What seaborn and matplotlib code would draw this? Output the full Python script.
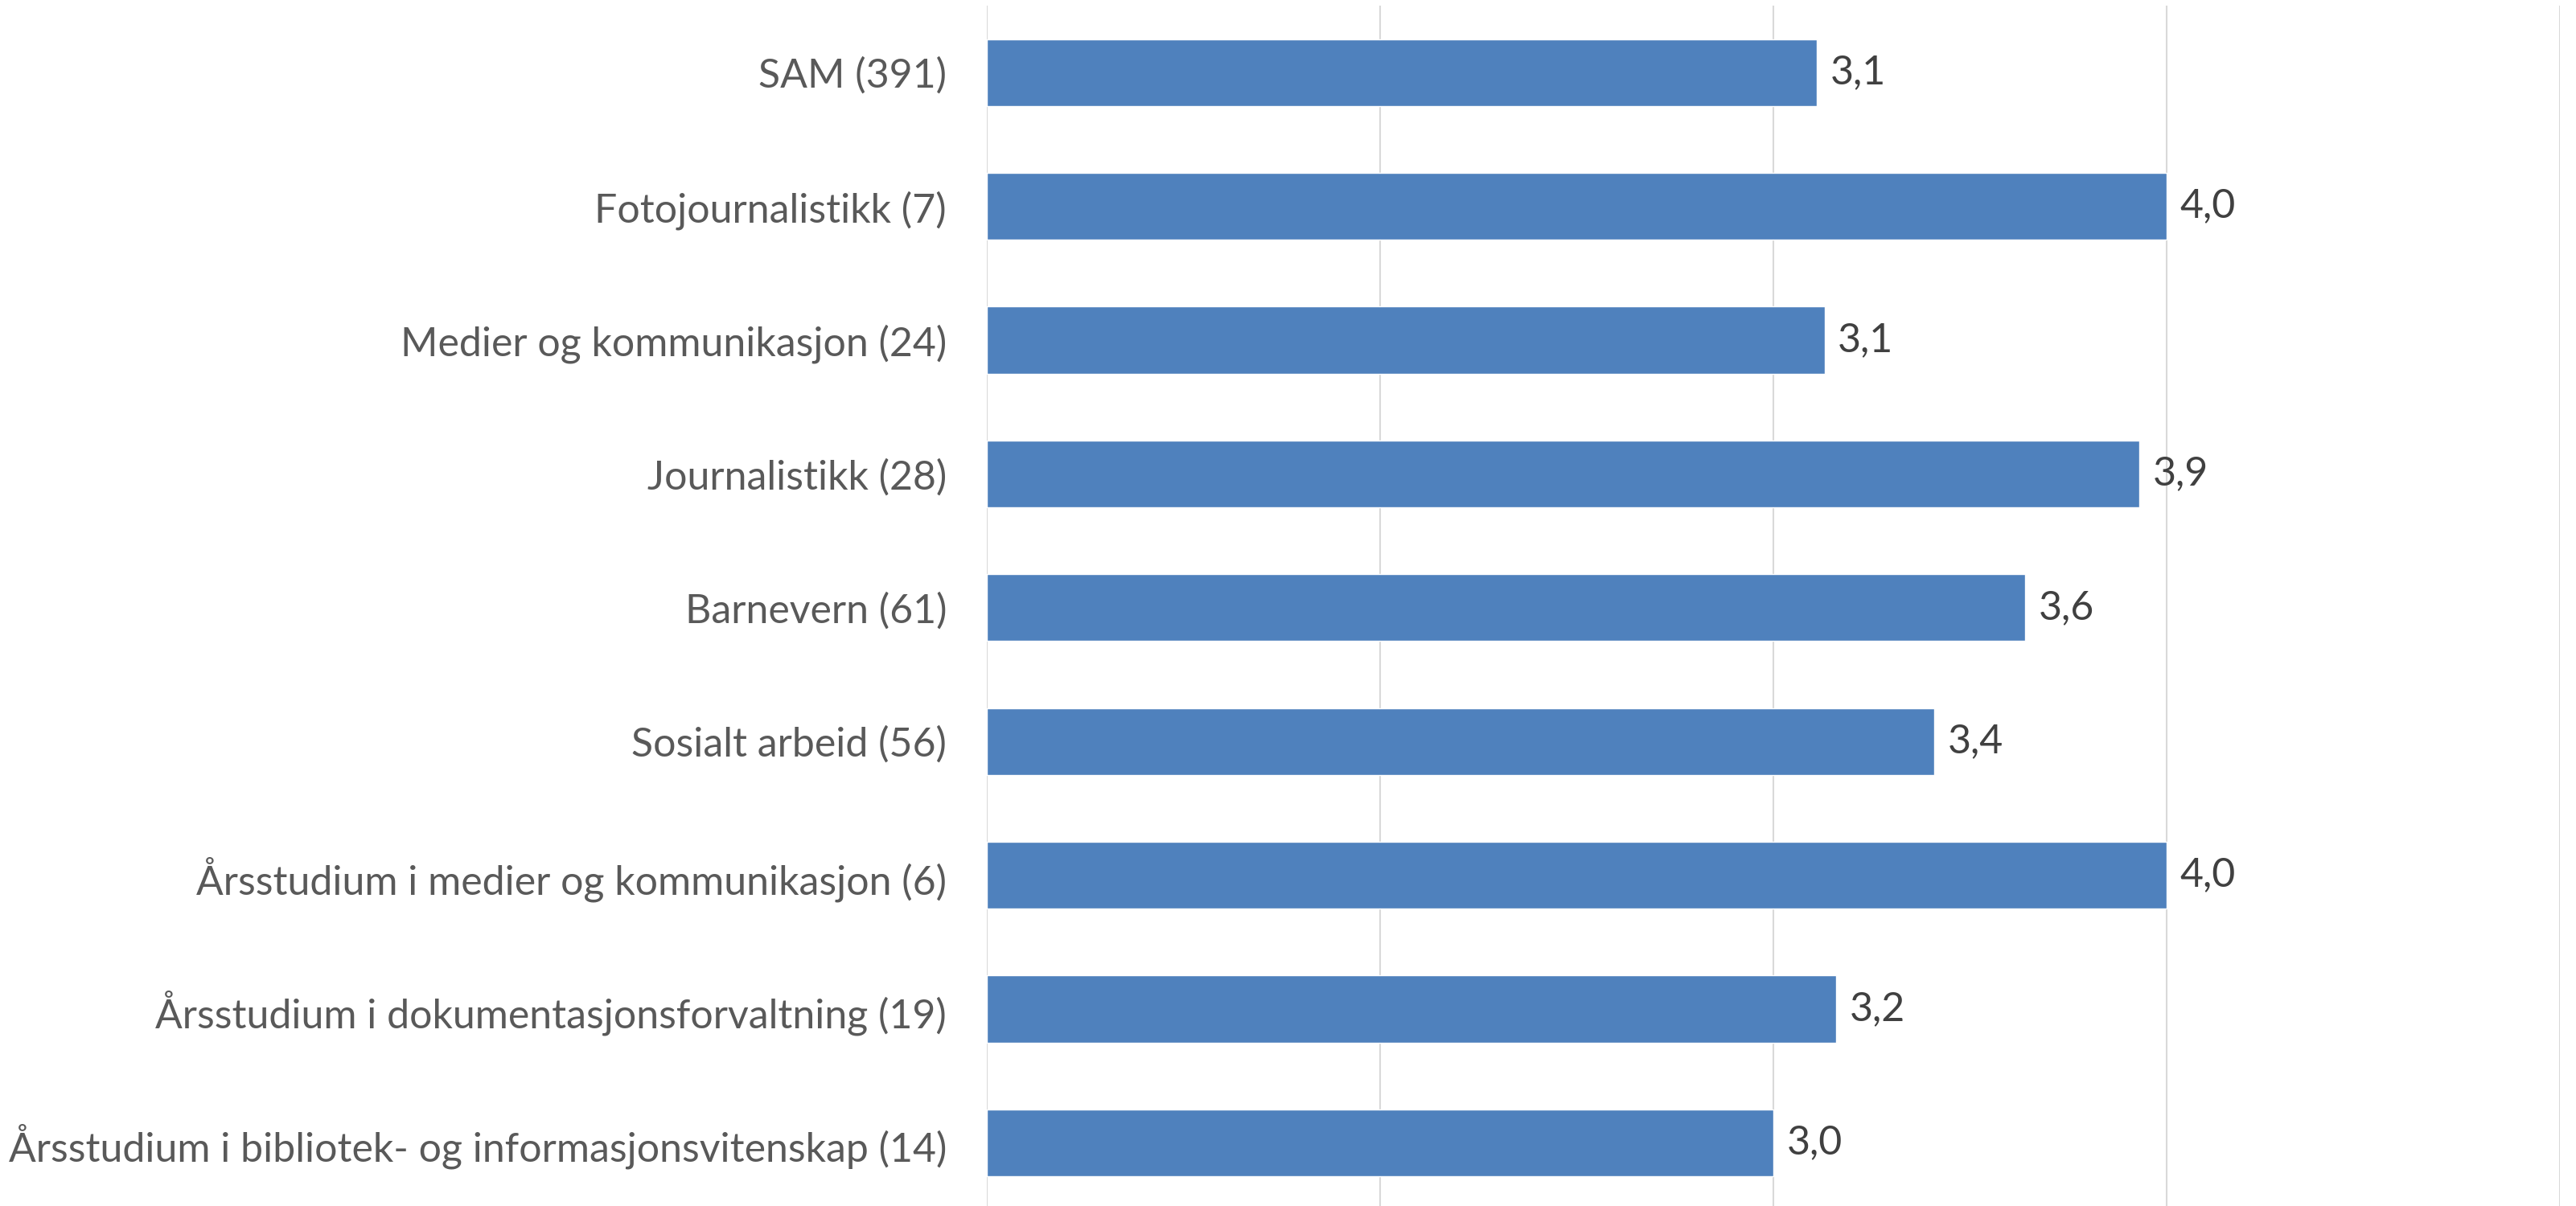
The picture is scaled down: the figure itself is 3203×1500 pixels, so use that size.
import matplotlib
matplotlib.use("Agg")
import matplotlib.pyplot as plt
import seaborn as sns
import pandas as pd

# Data
programs = [
    "SAM (391)",
    "Fotojournalistikk (7)",
    "Medier og kommunikasjon (24)",
    "Journalistikk (28)",
    "Barnevern (61)",
    "Sosialt arbeid (56)",
    "Årsstudium i medier og kommunikasjon (6)",
    "Årsstudium i dokumentasjonsforvaltning (19)",
    "Årsstudium i bibliotek- og informasjonsvitenskap (14)",
]
scores = [3.11, 4.0, 3.13, 3.93, 3.64, 3.41, 4.0, 3.16, 3.0]

df = pd.DataFrame({"program": programs, "score": scores})

sns.set_theme(style="white")
plt.rcParams["font.family"] = ["Lato", "DejaVu Sans"]

W, H = 3203, 1500
fig = plt.figure(figsize=(W / 100, H / 100), dpi=100)
left, right = 1227 / W, 3183 / W
ax = fig.add_axes([left, -0.003, right - left, 1 - 7 / H + 0.003])

sns.barplot(data=df, y="program", x="score", orient="h", color="#4F81BD",
            saturation=1, width=0.5, ax=ax)

# bars in an Excel chart start at the axis minimum (1)
for p in ax.patches:
    w = p.get_width()
    p.set_x(1)
    p.set_width(w - 1)

ax.set_xlim(1, 5)
ax.set_ylim(len(programs) - 0.5, -0.5)
ax.set_xticks([1, 2, 3, 4, 5])
ax.set_xticklabels([])
ax.xaxis.grid(True, color="#D9D9D9", linewidth=1.5)
ax.set_axisbelow(True)
for s in ax.spines.values():
    s.set_visible(False)
ax.tick_params(axis="both", length=0)
ax.tick_params(axis="y", pad=36, labelsize=36, labelcolor="#595959")
ax.set_xlabel("")
ax.set_ylabel("")

ax.bar_label(ax.containers[0],
             labels=[f"{v:.1f}".replace(".", ",") for v in scores],
             padding=12, fontsize=36, color="#404040")

fig.savefig("out.png", dpi=100)
